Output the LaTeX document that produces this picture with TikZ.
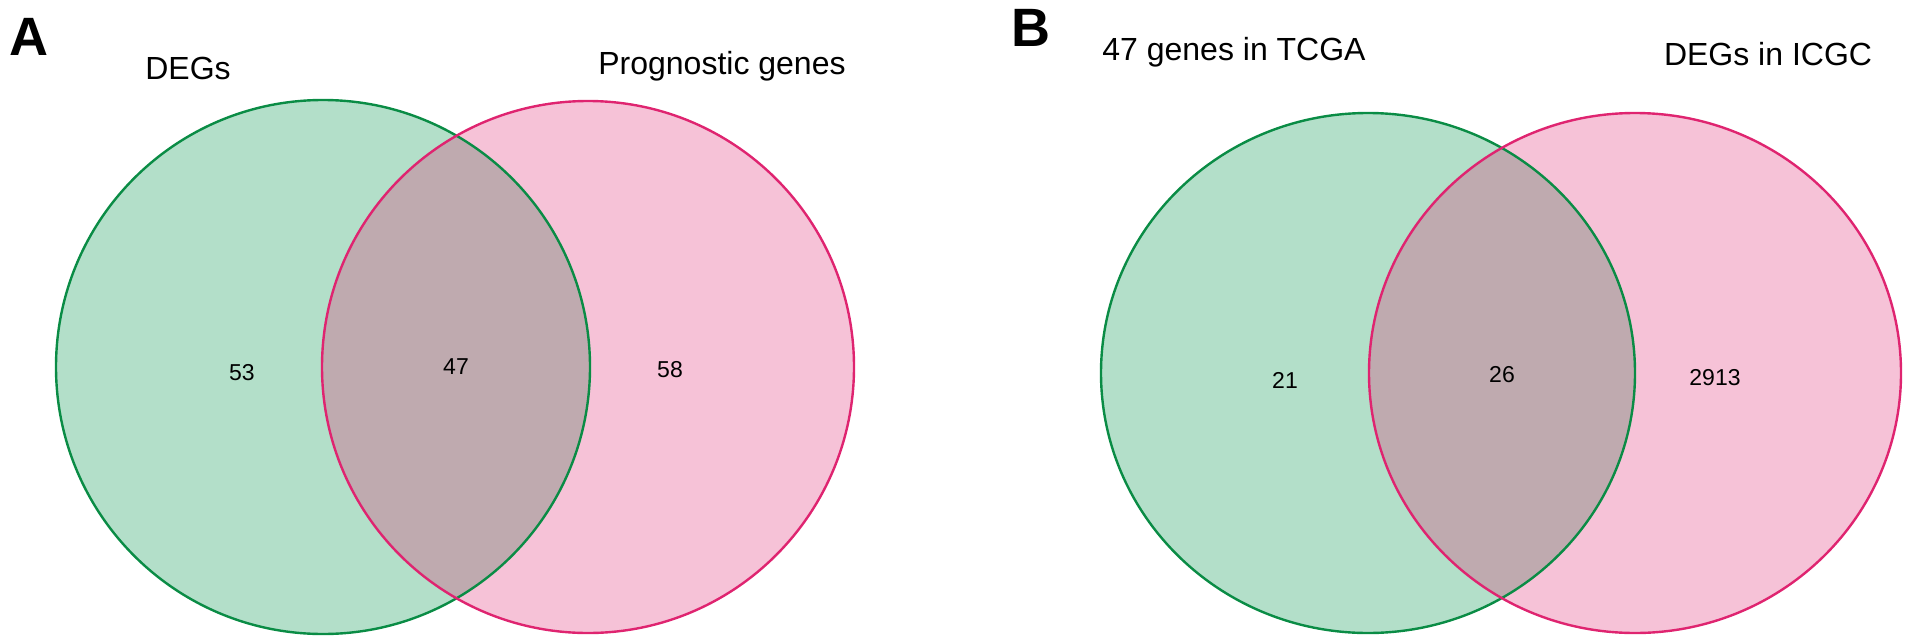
\documentclass[tikz,border=0pt]{standalone}
\usepackage{fontspec}
\setmainfont{Liberation Sans}
\definecolor{gfill}{HTML}{B3DFC9}
\definecolor{gline}{HTML}{0A8C45}
\definecolor{pfill}{HTML}{F6C2D7}
\definecolor{pline}{HTML}{DF2470}
\definecolor{ofill}{HTML}{BFAAAF}
\tikzset{
  lab/.style={font=\fontsize{32}{38}\selectfont, inner sep=0pt, anchor=center},
  num/.style={font=\fontsize{23}{27}\selectfont, inner sep=0pt, anchor=center},
  panel/.style={font=\fontsize{54}{60}\selectfont\bfseries, inner sep=0pt, anchor=center},
  setline/.style={line width=2.4pt},
}
\begin{document}
\begin{tikzpicture}[x=1pt,y=-1pt]
\useasboundingbox (0,0) rectangle (1912,643);
% ---------- Panel A ----------
\fill[gfill] (323,367) circle (267);
\fill[pfill] (588,367) circle (266);
\begin{scope}
  \clip (323,367) circle (267);
  \fill[ofill] (588,367) circle (266);
\end{scope}
\draw[setline, gline] (323,367) circle (267);
\draw[setline, pline] (588,367) circle (266);
\node[panel] (pA) at (29,37) {A};
\node[lab] (lA1) at (188,68) {DEGs};
\node[lab] (lA2) at (722,66) {Prognostic genes};
\node[num] (nA1) at (242,373) {53};
\node[num] (nA2) at (456,367) {47};
\node[num] (nA3) at (670,370) {58};
% ---------- Panel B ----------
\fill[gfill] (1368,373) ellipse [x radius=267, y radius=260];
\fill[pfill] (1635,373) ellipse [x radius=266, y radius=260];
\begin{scope}
  \clip (1368,373) ellipse [x radius=267, y radius=260];
  \fill[ofill] (1635,373) ellipse [x radius=266, y radius=260];
\end{scope}
\draw[setline, gline] (1368,373) ellipse [x radius=267, y radius=260];
\draw[setline, pline] (1635,373) ellipse [x radius=266, y radius=260];
\node[panel] (pB) at (1031,28) {B};
\node[lab] (lB1) at (1234,52) {47 genes in TCGA};
\node[lab] (lB2) at (1768,54) {DEGs in ICGC};
\node[num] (nB1) at (1285,380) {21};
\node[num] (nB2) at (1502,375) {26};
\node[num] (nB3) at (1715,378) {2913};
\end{tikzpicture}
\end{document}
